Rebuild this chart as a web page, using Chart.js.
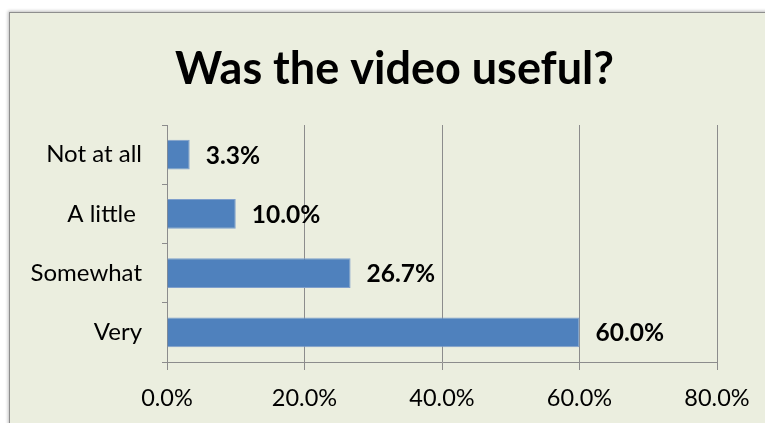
<!DOCTYPE html>
<html>
<head>
<meta charset="utf-8">
<script src="https://cdn.jsdelivr.net/npm/chart.js@4/dist/chart.umd.min.js"></script>
<style>
  html, body { margin: 0; padding: 0; background: #ffffff; overflow: hidden; }
  #frame {
    position: absolute; left: 9px; top: 12px; width: 820px; height: 460px;
    background: #ebeedf; border: 1.5px solid #8e8e8e;
    box-shadow: -1px -1px 3px rgba(0,0,0,0.25);
  }
  #wrap { position: absolute; left: 0; top: 0; width: 765px; height: 423px; }
</style>
</head>
<body>
<div id="frame"></div>
<div id="wrap"><canvas id="chart" width="765" height="423"></canvas></div>
<script>
// Survey answers and share of respondents (%)
const categories = ["Not at all", "A little ", "Somewhat", "Very"];
const shares = [3.3, 10.0, 26.7, 60.0];
const axisTicks = [0, 20, 40, 60, 80];
const chartTitle = "Was the video useful?";

const FONT = "Lato, 'Open Sans', sans-serif";

// Heading centred over the whole frame, above the plot
const heading = {
  id: "heading",
  afterDraw(chart) {
    const ctx = chart.ctx;
    ctx.save();
    ctx.font = "bold 45px " + FONT;
    ctx.fillStyle = "#000000";
    ctx.textAlign = "center";
    ctx.textBaseline = "middle";
    ctx.fillText(chartTitle, 394.5, 69);
    ctx.restore();
  }
};

// Writes each bar's value just past its end
const valueLabels = {
  id: "valueLabels",
  afterDatasetsDraw(chart) {
    const ctx = chart.ctx;
    const meta = chart.getDatasetMeta(0);
    ctx.save();
    ctx.font = "bold 24.5px " + FONT;
    ctx.fillStyle = "#000000";
    ctx.textAlign = "left";
    ctx.textBaseline = "middle";
    meta.data.forEach((bar, i) => {
      ctx.fillText(shares[i].toFixed(1) + "%", bar.x + 16, bar.y + 1);
    });
    ctx.restore();
  }
};

new Chart(document.getElementById("chart"), {
  type: "bar",
  data: {
    labels: categories,
    datasets: [{
      data: shares,
      backgroundColor: "#4f81bd",
      borderColor: "#7f9fcc",
      borderWidth: 1,
      barPercentage: 0.5,
      categoryPercentage: 1.0
    }]
  },
  options: {
    indexAxis: "y",
    responsive: false,
    animation: false,
    layout: { padding: { left: 0, right: 48, top: 125, bottom: 0 } },
    plugins: {
      legend: { display: false },
      tooltip: { enabled: false },
      title: { display: false }
    },
    scales: {
      x: {
        min: axisTicks[0],
        max: axisTicks[axisTicks.length - 1],
        afterBuildTicks(scale) { scale.ticks = axisTicks.map(v => ({ value: v })); },
        afterFit(scale) { scale.height = 61; },
        grid: { color: "#8c8c8c", lineWidth: 1, tickLength: 8, drawTicks: true },
        border: { color: "#8c8c8c", width: 1 },
        ticks: {
          color: "#000000",
          padding: 14,
          maxRotation: 0,
          font: { family: FONT, size: 23.5 },
          callback: v => Number(v).toFixed(1) + "%"
        }
      },
      y: {
        afterFit(scale) { scale.width = 167; },
        grid: { drawOnChartArea: false, color: "#8c8c8c", tickLength: 5, offset: true },
        border: { color: "#8c8c8c", width: 1 },
        ticks: {
          color: "#000000",
          padding: 20,
          font: { family: FONT, size: 24 }
        }
      }
    }
  },
  plugins: [valueLabels, heading]
});
</script>
</body>
</html>
